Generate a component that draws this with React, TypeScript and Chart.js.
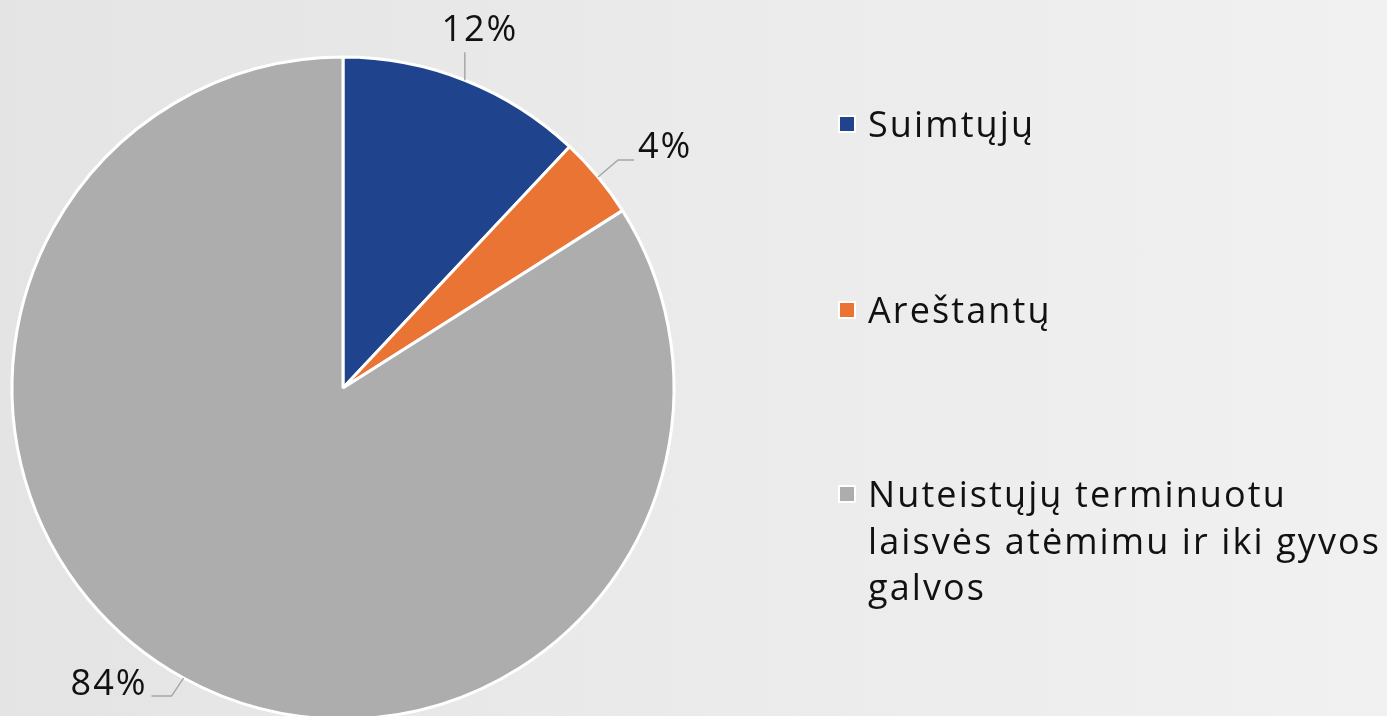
import React, { useEffect, useRef } from "react";
import { Chart, registerables } from "chart.js";

Chart.register(...registerables);

const categories = [
  "Suimtųjų",
  "Areštantų",
  "Nuteistųjų terminuoto laisvės atėmimu ir iki gyvos galvos",
];
const legendLines = [
  ["Suimtųjų"],
  ["Areštantų"],
  ["Nuteistųjų terminuotu", "laisvės atėmimu ir iki gyvos", "galvos"],
];
const values = [12, 4, 84];
const valueLabels = ["12%", "4%", "84%"];
const colors = ["#1F438C", "#EA7434", "#ADADAD"];

const FONT = "'Open Sans', 'DejaVu Sans', sans-serif";

const labelLayout = [
  { line: [[0, 0], [0, -28]], text: [15, -49], align: "center" },
  { line: [[0, 0], [20, -17], [36, -17]], text: [40, -29], align: "left" },
  { line: [[0, 0], [-12, 18], [-32, 18]], text: [-36, 7], align: "right" },
];

const outsideLabels = {
  id: "outsideLabels",
  afterDatasetsDraw(chart: any) {
    const meta = chart.getDatasetMeta(0);
    const ctx = chart.ctx;
    ctx.save();
    meta.data.forEach((arc: any, i: number) => {
      const { x, y, startAngle, endAngle, outerRadius } = arc.getProps(
        ["x", "y", "startAngle", "endAngle", "outerRadius"],
        true
      );
      const mid = (startAngle + endAngle) / 2;
      const ex = x + Math.cos(mid) * outerRadius;
      const ey = y + Math.sin(mid) * outerRadius;
      const lay = labelLayout[i];
      ctx.strokeStyle = "#A6A6A6";
      ctx.lineWidth = 1.5;
      ctx.beginPath();
      lay.line.forEach((p: number[], k: number) => {
        if (k === 0) ctx.moveTo(ex + p[0], ey + p[1]);
        else ctx.lineTo(ex + p[0], ey + p[1]);
      });
      ctx.stroke();
      ctx.fillStyle = "#111111";
      ctx.font = `36px ${FONT}`;
      try {
        (ctx as any).letterSpacing = "2px";
      } catch (e) {}
      ctx.textAlign = lay.align;
      ctx.textBaseline = "middle";
      ctx.fillText(valueLabels[i], ex + lay.text[0], ey + lay.text[1]);
    });
    ctx.restore();
  },
};

export default function App() {
  const ref = useRef<HTMLCanvasElement>(null);
  useEffect(() => {
    document.body.style.margin = "0";
    const chart = new Chart(ref.current!, {
      type: "pie",
      data: {
        labels: categories,
        datasets: [
          {
            data: values,
            backgroundColor: colors,
            borderColor: "#FFFFFF",
            borderWidth: 3,
          },
        ],
      },
      options: {
        responsive: false,
        animation: false,
        layout: { padding: { left: 10.5, top: 55.5, right: 711.5, bottom: 9.5 } },
        plugins: { legend: { display: false }, tooltip: { enabled: false } },
      },
      plugins: [outsideLabels],
    });
    return () => chart.destroy();
  }, []);

  const legendTops = [101, 287, 471];
  return (
    <div
      style={{
        position: "relative",
        width: 1387,
        height: 716,
        overflow: "hidden",
        background: "linear-gradient(to right, #e4e4e4, #f1f1f1)",
        fontFamily: FONT,
      }}
    >
      <canvas
        ref={ref}
        width={1387}
        height={730}
        style={{ position: "absolute", left: 0, top: 0 }}
      />
      {legendLines.map((lines, i) => (
        <div
          key={i}
          style={{
            position: "absolute",
            left: 838,
            top: legendTops[i],
            display: "flex",
            alignItems: "flex-start",
          }}
        >
          <div
            style={{
              width: 14,
              height: 14,
              background: colors[i],
              border: "2px solid #fff",
              marginTop: 14,
              marginRight: 12,
              flexShrink: 0,
            }}
          />
          <div style={{ fontSize: 36, lineHeight: "46.5px", color: "#111", letterSpacing: 2.1, whiteSpace: "nowrap" }}>
            {lines.map((l, k) => (
              <div key={k}>{l}</div>
            ))}
          </div>
        </div>
      ))}
    </div>
  );
}
